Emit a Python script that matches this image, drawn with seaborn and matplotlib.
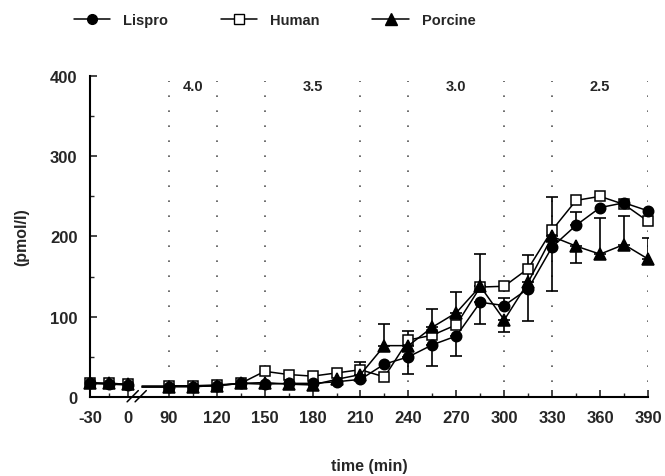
import numpy as np
import pandas as pd
import matplotlib
matplotlib.use("Agg")
import matplotlib.pyplot as plt
from matplotlib.lines import Line2D
import seaborn as sns

# ---- data ----
times = [-30, -15, 0, 90, 105, 120, 135, 150, 165, 180, 195, 210,
         225, 240, 255, 270, 285, 300, 315, 330, 345, 360, 375, 390]

lispro = [17, 16, 15, 13, 13, 14, 17, 16, 17, 17, 19, 22,
          41, 50, 65, 76, 118, 114, 135, 187, 214, 236, 242, 232]
human = [18, 17, 16, 14, 14, 15, 17, 32, 28, 26, 30, 34,
         25, 71, 77, 90, 137, 138, 160, 208, 245, 250, 240, 219]
porcine = [17, 17, 16, 13, 13, 14, 17, 18, 16, 15, 22, 28,
           64, 64, 87, 105, 138, 96, 143, 200, 188, 178, 190, 172]

# error bars (only the visible halves)
lispro_lo = [0, 0, 0, 0, 0, 0, 0, 0, 0, 0, 0, 0,
             0, 21, 26, 25, 27, 0, 40, 55, 0, 0, 0, 0]
lispro_hi = [0, 0, 0, 0, 0, 0, 0, 0, 0, 0, 0, 0,
             0, 0, 0, 0, 0, 9, 0, 0, 16, 0, 0, 0]
porcine_lo = [0, 0, 0, 0, 0, 0, 0, 0, 0, 0, 0, 0,
              0, 0, 0, 0, 0, 15, 0, 0, 21, 0, 0, 0]
porcine_hi = [0, 0, 0, 0, 0, 0, 0, 0, 0, 0, 0, 15,
              27, 18, 23, 26, 40, 0, 34, 49, 0, 45, 36, 26]

dose_labels = ["4.0", "3.5", "3.0", "2.5"]
dose_x = [105, 180, 270, 360]
dose_lines = [90, 120, 150, 210, 240, 300, 330, 390]

tick_major = [-30, 0, 90, 120, 150, 180, 210, 240, 270, 300, 330, 360, 390]
tick_minor = [-15, 105, 135, 165, 195, 225, 255, 285, 315, 345, 375]


def pos(t):
    # broken time axis: the -30..0 part is compressed and sits before 90
    t = np.asarray(t, dtype=float)
    return np.where(t >= 90, t, 64.4 + t * 38 / 48)


sns.set_style("ticks")
plt.rcParams['font.family'] = ['Liberation Sans', 'DejaVu Sans']
plt.rcParams['font.weight'] = 'bold'

fig = plt.figure(figsize=(6.65, 4.77), dpi=100)
ax = fig.add_axes([0.1353, 0.1656, 0.8391, 0.6730])

# dotted dose boundaries
for d in dose_lines:
    ax.axvline(d, ymin=0, ymax=0.985, color='#555555', lw=1.2,
               linestyle=(0, (1, 8)), zorder=1)
for lab, dx in zip(dose_labels, dose_x):
    ax.text(dx, 387, lab, ha='center', va='center', fontsize=10.5,
            fontweight='bold')

series = [
    ("Human", human, dict(marker='s', markerfacecolor='white', markersize=7.5)),
    ("Lispro", lispro, dict(marker='o', markerfacecolor='black', markersize=7.5)),
    ("Porcine", porcine, dict(marker='^', markerfacecolor='black', markersize=8.5)),
]

seg = np.where(np.array(times) > 0, 1, 0)
for z, (name, vals, mk) in enumerate(series):
    df = pd.DataFrame({"pos": pos(times), "value": vals, "seg": seg})
    sns.lineplot(data=df, x="pos", y="value", units="seg", estimator=None,
                 color='black', lw=1.1, markeredgecolor='black',
                 markeredgewidth=1.1, clip_on=False, zorder=3 + z, ax=ax, **mk)
    # short stub after the axis break
    ax.plot([73, 90], [vals[3], vals[3]], color='black', lw=1.1, zorder=3)

for vals, lo, hi in [(lispro, lispro_lo, lispro_hi), (porcine, porcine_lo, porcine_hi)]:
    lo = np.array(lo); hi = np.array(hi)
    m = (lo > 0) | (hi > 0)
    ax.errorbar(pos(times)[m], np.array(vals)[m], yerr=[lo[m], hi[m]],
                fmt='none', ecolor='black', elinewidth=1.2, capsize=4,
                capthick=1.2, zorder=2)

ax.set_xlim(float(pos(-30)), 390)
ax.set_ylim(0, 400)
ax.set_xticks(pos(tick_major))
ax.set_xticklabels([str(t) for t in tick_major])
ax.set_xticks(pos(tick_minor), minor=True)
ax.set_yticks([0, 100, 200, 300, 400])
ax.set_yticks([50, 150, 250, 350], minor=True)
ax.tick_params(which='major', direction='in', length=5, width=1.2,
               labelsize=12, pad=9)
ax.tick_params(which='minor', direction='in', length=3, width=1)
for lab in ax.get_xticklabels() + ax.get_yticklabels():
    lab.set_fontweight('bold')
sns.despine(ax=ax)
for s in ['left', 'bottom']:
    ax.spines[s].set_linewidth(1.5)
    ax.spines[s].set_color('black')

ax.set_xlabel("time (min)", fontsize=11.5, fontweight='bold', labelpad=24)
ax.set_ylabel("(pmol/l)", fontsize=11.5, fontweight='bold', labelpad=15)

# axis break marks
bx = float(pos(0)) + 3
for off in [0, 5]:
    ax.plot([bx + off - 3.5, bx + off + 3.5], [-6, 8], color='black', lw=1.1,
            clip_on=False, zorder=6)

handles = [
    Line2D([], [], color='black', lw=1.1, marker='o', markersize=7, mfc='black', mec='black'),
    Line2D([], [], color='black', lw=1.1, marker='s', markersize=7, mfc='white', mec='black'),
    Line2D([], [], color='black', lw=1.1, marker='^', markersize=8, mfc='black', mec='black'),
]
fig.legend(handles, ["Lispro", "Human", "Porcine"], ncol=3, frameon=False,
           loc='center', bbox_to_anchor=(0.413, 0.956), handlelength=2.5,
           handletextpad=0.9, columnspacing=3.6,
           prop={'size': 10.5, 'weight': 'bold'})

fig.savefig("out.png", dpi=100)
